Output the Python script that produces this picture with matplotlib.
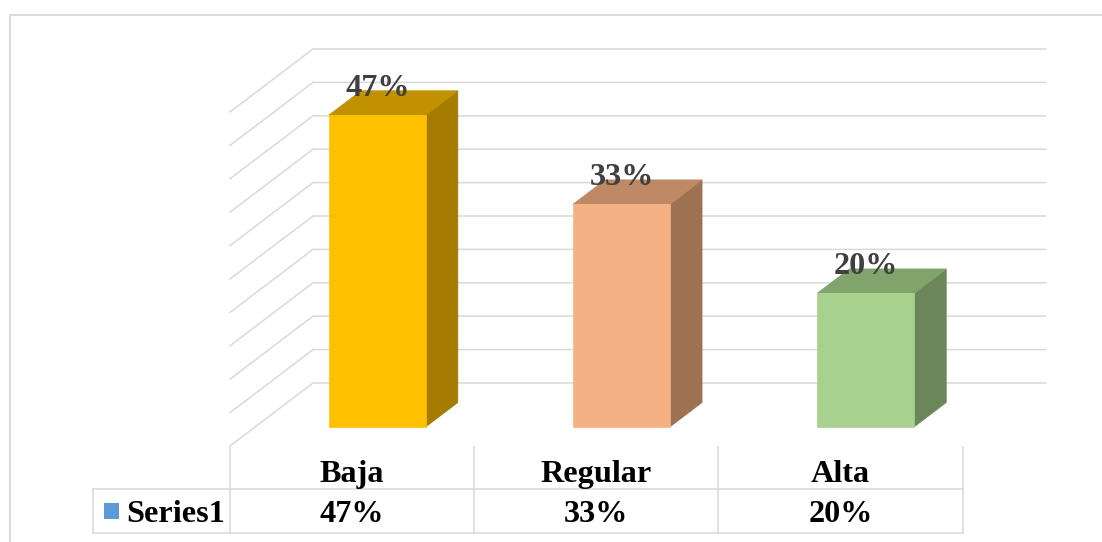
import matplotlib
matplotlib.use('Agg')
import matplotlib.pyplot as plt
from matplotlib.patches import Polygon, Rectangle

# Data
categories = ['Baja', 'Regular', 'Alta']
values = [46.67, 33.33, 20.0]
series_name = 'Series1'
front_colors = ['#FFC000', '#F4B183', '#A9D18E']
top_colors = ['#C19100', '#BF8966', '#80A46B']
side_colors = ['#A67C00', '#9E7152', '#6B875A']
y_max = 50
y_step = 5

W, H = 1102, 542
fig = plt.figure(figsize=(W / 100, H / 100), dpi=100)
ax = fig.add_axes([0, 0, 1, 1])
ax.set_xlim(0, W)
ax.set_ylim(H, 0)
ax.axis('off')

# oblique projection of the 3D plot box into pixels
x0, y0 = 230, 446          # front-left floor corner
col_w = 244.2              # width of one category
px_pct = 6.68              # pixels per percent
ddx, ddy = 83, -63         # full depth vector


def proj(x, z, d):
    return (x0 + x * col_w + d * ddx, y0 - z * px_pct + d * ddy)


grid_c = '#D9D9D9'
lw = 1.1
ncat = len(categories)
fs = 23.2
font = 'Liberation Serif'

# back wall and side wall gridlines
for k in range(0, y_max + 1, y_step):
    a = proj(0, k, 0)
    b = proj(0, k, 1)
    c = proj(ncat, k, 1)
    ax.plot([a[0], b[0], c[0]], [a[1], b[1], c[1]], color=grid_c, lw=lw, zorder=1)

# bars
bw = 0.397
d0, d1 = 0.305, 0.69
for i, v in enumerate(values):
    xl = i + 0.5 - bw / 2
    xr = i + 0.5 + bw / 2
    front = [proj(xl, 0, d0), proj(xr, 0, d0), proj(xr, v, d0), proj(xl, v, d0)]
    side = [proj(xr, 0, d0), proj(xr, 0, d1), proj(xr, v, d1), proj(xr, v, d0)]
    top = [proj(xl, v, d0), proj(xr, v, d0), proj(xr, v, d1), proj(xl, v, d1)]
    ax.add_patch(Polygon(side, closed=True, fc=side_colors[i], ec=side_colors[i], lw=0.5, zorder=3))
    ax.add_patch(Polygon(top, closed=True, fc=top_colors[i], ec=top_colors[i], lw=0.5, zorder=3))
    ax.add_patch(Polygon(front, closed=True, fc=front_colors[i], ec=front_colors[i], lw=0.5, zorder=4))
    lx, ly = proj(i + 0.5, v, d0)
    ax.text(lx, ly - 19.5, f'{round(v)}%', ha='center', va='baseline',
            fontsize=fs, fontweight='bold', family=font,
            color='#404040', zorder=5)

# chart area border
ax.plot([10, 10, W], [H, 15, 15], color=grid_c, lw=1.3, zorder=1)

# data table
tb_top = y0 + 1
row_mid = 489
tb_bot = 533
leg_left = 93
xr_end = x0 + ncat * col_w
for j in range(ncat + 1):
    xx = x0 + j * col_w
    ax.plot([xx, xx], [tb_top, tb_bot], color=grid_c, lw=lw, zorder=1)
ax.plot([leg_left, xr_end], [row_mid, row_mid], color=grid_c, lw=lw, zorder=1)
ax.plot([leg_left, xr_end], [tb_bot, tb_bot], color=grid_c, lw=lw, zorder=1)
ax.plot([leg_left, leg_left], [row_mid, tb_bot], color=grid_c, lw=lw, zorder=1)

for i, (cat, v) in enumerate(zip(categories, values)):
    cx = x0 + (i + 0.5) * col_w
    ax.text(cx, 482, cat, ha='center', va='baseline', fontsize=fs,
            fontweight='bold', family=font, color='black')
    ax.text(cx, 522, f'{round(v)}%', ha='center', va='baseline', fontsize=fs,
            fontweight='bold', family=font, color='black')

ax.add_patch(Rectangle((104, 503), 15, 16, fc='#5B9BD5', ec='none'))
ax.text(126, 522, series_name, ha='left', va='baseline', fontsize=fs,
        fontweight='bold', family=font, color='black')

fig.savefig('out.png', dpi=100)
